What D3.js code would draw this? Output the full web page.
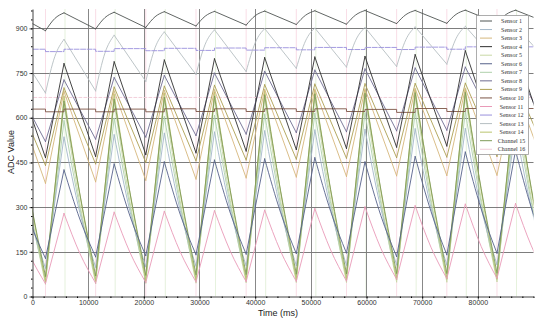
<!DOCTYPE html>
<html>
<head>
<meta charset="utf-8">
<script src="https://cdn.jsdelivr.net/npm/d3@7"></script>
<style>
  body { margin: 0; background: #fff; }
  svg { display: block; }
</style>
</head>
<body>
<div id="chart"></div>
<script>
// cycle timing (ms)
const peakTimes = [-3350, 5660, 14670, 23680, 32690, 41710, 50720, 59730, 68740, 77750, 86770];
const troughTimes = [2330, 11340, 20350, 29370, 38380, 47390, 56400, 65410, 74430, 83440, 92450];
const decayMidTimes = [-510, 8500, 17510, 26530, 35540, 44550, 53560, 62570, 71590, 80600, 89610];
const riseMidTimes = [4000, 13010, 22020, 31030, 40040, 49050, 58060, 67070, 76090, 85100];

const xTicks = [0, 10000, 20000, 30000, 40000, 50000, 60000, 70000, 80000];
const yTicks = [0, 150, 300, 450, 600, 750, 900];

const seriesNames = ["Sensor 1", "Sensor 2", "Sensor 3", "Sensor 4", "Sensor 5", "Sensor 6",
  "Sensor 7", "Sensor 8", "Sensor 9", "Sensor 10", "Sensor 11", "Sensor 12", "Sensor 13",
  "Sensor 14", "Channel 15", "Channel 16"];
const seriesColors = ["#4f5552", "#a3b7c8", "#d6b77c", "#2f2f2f", "#c8d8a6", "#56628a",
  "#aed0ab", "#6f6c92", "#ad9f52", "#7c5444", "#e99ab8", "#9a90dc", "#b6bec2",
  "#b9c46e", "#7e9a58", "#f0cad6"];

// sawtooth sensors: value at each peak / trough (and curve midpoints)
const s1Peak = [950, 952, 954, 956, 957, 958, 959, 960, 960, 961, 961];
const s1Trough = [892, 898, 903, 908, 911, 913, 914, 916, 917, 918, 919];
const s1Rise = [933, 936, 939, 941, 943, 944, 945, 946, 947, 947];

const s13Peak = [850, 863, 877, 888, 895, 899, 901, 903, 905, 907, 908];
const s13Trough = [683, 690, 722, 745, 755, 766, 770, 772, 780, 786, 790];
const s13Rise = [805, 817, 835, 847, 853, 858, 860, 862, 866, 869];

const s4Peak = [775, 782, 788, 794, 798, 802, 804, 806, 812, 825, 830];
const s4Trough = [466, 470, 476, 482, 488, 493, 497, 501, 505, 508, 510];

const s8Peak = [720, 727, 735, 742, 750, 756, 760, 764, 767, 770, 772];
const s8Trough = [520, 528, 535, 540, 545, 550, 553, 556, 558, 560, 561];

const s9Peak = [695, 700, 703, 706, 709, 711, 713, 714, 715, 716, 717];
const s9Trough = [440, 445, 450, 455, 458, 461, 464, 466, 468, 470, 471];

const s3Peak = [682, 688, 690, 692, 694, 695, 696, 697, 698, 699, 700];
const s3Trough = [380, 385, 390, 394, 398, 401, 403, 405, 406, 407, 408];

const c15Peak = [640, 655, 662, 668, 672, 676, 679, 681, 683, 684, 685];
const c15Trough = [68, 70, 72, 74, 75, 76, 77, 78, 78, 79, 79];
const c15Mid = [337, 345, 349, 353, 355, 357, 359, 360, 361, 362, 363];

const s14Peak = [660, 672, 678, 682, 686, 689, 691, 693, 694, 695, 696];
const s14Trough = [50, 52, 54, 55, 56, 57, 58, 58, 59, 59, 60];
const s14Mid = [337, 343, 347, 349, 351, 353, 354, 355, 356, 356, 357];

const s5Peak = [630, 645, 652, 657, 661, 664, 666, 668, 669, 670, 671];
const s5Trough = [42, 44, 45, 46, 47, 48, 48, 49, 49, 50, 50];
const s5Mid = [307, 314, 318, 321, 323, 325, 326, 327, 328, 328, 329];

const s7Peak = [575, 590, 598, 604, 608, 612, 615, 617, 619, 620, 621];
const s7Trough = [58, 60, 62, 63, 64, 65, 66, 66, 67, 67, 68];
const s7Mid = [291, 298, 303, 306, 308, 310, 312, 313, 314, 315, 316];

const s2Peak = [520, 535, 543, 548, 552, 556, 559, 561, 563, 564, 565];
const s2Trough = [95, 98, 100, 102, 103, 104, 105, 106, 106, 107, 107];
const s2Mid = [274, 282, 286, 289, 291, 293, 295, 296, 297, 297, 298];

const s6Peak = [415, 425, 445, 452, 458, 462, 466, 452, 470, 485, 490];
const s6Trough = [128, 133, 137, 140, 142, 144, 146, 134, 140, 145, 148];
const s6Mid = [252, 260, 270, 276, 280, 283, 286, 272, 285, 294, 298];

const s11Peak = [272, 279, 283, 286, 288, 290, 295, 301, 305, 310, 312];
const s11Trough = [43, 45, 47, 49, 50, 51, 52, 58, 60, 61, 62];
const s11Mid = [140, 145, 148, 150, 152, 153, 156, 162, 165, 168, 170];

// step sensors: level between cycles / level during the dip
const s12High = [830, 830, 832, 833, 834, 835, 836, 836, 837, 838, 838];
const s12Low = [822, 823, 825, 826, 827, 828, 829, 829, 830, 830, 831];
const s10High = [629, 629, 629, 630, 630, 630, 630, 628, 631, 631, 631];
const s10Low = [620, 620, 620, 621, 621, 621, 621, 618, 621, 622, 622];

// flat channel
const c16Level = [668, 668, 668, 668, 668, 668, 668, 668, 668, 668, 668];

const series = [
  { id: 0, kind: "saw", peak: s1Peak, trough: s1Trough, rise: s1Rise },
  { id: 1, kind: "saw", peak: s2Peak, trough: s2Trough, mid: s2Mid },
  { id: 2, kind: "saw", peak: s3Peak, trough: s3Trough },
  { id: 3, kind: "saw", peak: s4Peak, trough: s4Trough },
  { id: 4, kind: "saw", peak: s5Peak, trough: s5Trough, mid: s5Mid },
  { id: 5, kind: "saw", peak: s6Peak, trough: s6Trough, mid: s6Mid },
  { id: 6, kind: "saw", peak: s7Peak, trough: s7Trough, mid: s7Mid },
  { id: 7, kind: "saw", peak: s8Peak, trough: s8Trough },
  { id: 8, kind: "saw", peak: s9Peak, trough: s9Trough },
  { id: 9, kind: "step", high: s10High, low: s10Low },
  { id: 10, kind: "saw", peak: s11Peak, trough: s11Trough, mid: s11Mid },
  { id: 11, kind: "step", high: s12High, low: s12Low },
  { id: 12, kind: "saw", peak: s13Peak, trough: s13Trough, rise: s13Rise },
  { id: 13, kind: "saw", peak: s14Peak, trough: s14Trough, mid: s14Mid },
  { id: 14, kind: "saw", peak: c15Peak, trough: c15Trough, mid: c15Mid },
  { id: 15, kind: "flat", level: c16Level }
];
// light lines first, dark ones on top
const drawOrder = [15, 12, 4, 6, 1, 13, 2, 8, 14, 10, 5, 7, 11, 9, 3, 0];

const width = 550;
const height = 323;

const x = d3.scaleLinear().domain([0, 90000]).range([32.5, 533.5]);
const y = d3.scaleLinear().domain([0, 965]).range([296.5, 9]);

const svg = d3.select("#chart").append("svg")
  .attr("width", width)
  .attr("height", height)
  .style("font-family", "'Liberation Sans', Arial, sans-serif");

svg.append("defs").append("clipPath").attr("id", "plot-clip")
  .append("rect")
  .attr("x", x(0)).attr("y", y(965))
  .attr("width", x(90000) - x(0)).attr("height", y(0) - y(965));

// faint event markers at each peak and trough
const markers = svg.append("g").attr("clip-path", "url(#plot-clip)");
markers.selectAll(".mt").data(troughTimes).join("line")
  .attr("x1", d => x(d)).attr("x2", d => x(d))
  .attr("y1", y(965)).attr("y2", y(0))
  .attr("stroke", "#f2b8cc").attr("stroke-width", 0.8).attr("opacity", 0.6);
markers.selectAll(".mp").data(peakTimes).join("line")
  .attr("x1", d => x(d) + 1).attr("x2", d => x(d) + 1)
  .attr("y1", y(965)).attr("y2", y(0))
  .attr("stroke", "#c9e2b8").attr("stroke-width", 0.8).attr("opacity", 0.6);

// grid
const grid = svg.append("g");
grid.selectAll(".gy").data(yTicks.slice(1)).join("line")
  .attr("x1", x(0)).attr("x2", x(90000))
  .attr("y1", d => Math.round(y(d)) + 0.5).attr("y2", d => Math.round(y(d)) + 0.5)
  .attr("stroke", "#6e6e6e").attr("stroke-width", 0.9);
grid.selectAll(".gx").data(xTicks.slice(1)).join("line")
  .attr("x1", d => Math.round(x(d)) + 0.5).attr("x2", d => Math.round(x(d)) + 0.5)
  .attr("y1", y(965)).attr("y2", y(0))
  .attr("stroke", "#7a7a7a").attr("stroke-width", 0.9);

// series
const monotone = d3.line().x(d => x(d[0])).y(d => y(d[1])).curve(d3.curveMonotoneX);
const stepLine = d3.line().x(d => x(d[0])).y(d => y(d[1])).curve(d3.curveStepAfter);
const straight = d3.line().x(d => x(d[0])).y(d => y(d[1]));

function sawPath(s) {
  let d = "";
  for (let k = 0; k < peakTimes.length; k++) {
    const fall = [[peakTimes[k], s.peak[k]]];
    if (s.mid) fall.push([decayMidTimes[k], s.mid[k]]);
    fall.push([troughTimes[k], s.trough[k]]);
    d += monotone(fall);
    if (k < peakTimes.length - 1) {
      const rise = [[troughTimes[k], s.trough[k]]];
      if (s.rise) rise.push([riseMidTimes[k], s.rise[k]]);
      rise.push([peakTimes[k + 1], s.peak[k + 1]]);
      d += monotone(rise);
    }
  }
  return d;
}

function stepPath(s) {
  const pts = [];
  for (let k = 0; k < peakTimes.length; k++) {
    pts.push([peakTimes[k], s.high[k]]);
    pts.push([troughTimes[k], s.low[k]]);
  }
  return stepLine(pts);
}

const plot = svg.append("g").attr("clip-path", "url(#plot-clip)");
drawOrder.forEach(i => {
  const s = series[i];
  let d;
  if (s.kind === "saw") d = sawPath(s);
  else if (s.kind === "step") d = stepPath(s);
  else d = straight(peakTimes.map((t, k) => [t, s.level[k]]).concat([[troughTimes[10], s.level[10]]]));
  plot.append("path")
    .attr("d", d)
    .attr("fill", "none")
    .attr("stroke", seriesColors[i])
    .attr("stroke-width", 0.9)
    .attr("stroke-dasharray", s.kind === "flat" ? "3,2" : (i === 11 ? "5,1.5" : null))
    .attr("stroke-linecap", "round")
    .attr("stroke-linejoin", "round");
});

// axes
const xAxis = svg.append("g").attr("transform", `translate(0,${y(0)})`)
  .call(d3.axisBottom(x).tickValues(xTicks).tickFormat(d3.format("d"))
    .tickSize(3).tickSizeOuter(0).tickPadding(1));
svg.append("g").attr("transform", `translate(0,${y(0)})`)
  .call(d3.axisBottom(x).tickValues(d3.range(0, 90001, 2000)).tickSize(1.5).tickFormat(""))
  .select(".domain").remove();
const yAxis = svg.append("g").attr("transform", `translate(${x(0)},0)`)
  .call(d3.axisLeft(y).tickValues(yTicks).tickSize(3).tickSizeOuter(0).tickPadding(2));
svg.append("g").attr("transform", `translate(${x(0)},0)`)
  .call(d3.axisLeft(y).tickValues(d3.range(0, 961, 30)).tickSize(1.5).tickFormat(""))
  .select(".domain").remove();

[xAxis, yAxis].forEach(a => {
  a.selectAll("text").attr("font-size", 7).attr("fill", "#333").style("font-family", "'Liberation Sans', Arial, sans-serif");
  a.selectAll("line").attr("stroke", "#444");
  a.select(".domain").attr("stroke", "#444");
});

svg.append("text")
  .attr("x", 278).attr("y", 316)
  .attr("text-anchor", "middle")
  .attr("font-size", 9)
  .attr("fill", "#222")
  .text("Time (ms)");

svg.append("text")
  .attr("transform", "translate(14,152) rotate(-90)")
  .attr("text-anchor", "middle")
  .attr("font-size", 9)
  .attr("fill", "#222")
  .text("ADC Value");

// legend
const legend = svg.append("g");
legend.append("rect")
  .attr("x", 476.5).attr("y", 15.5)
  .attr("width", 52).attr("height", 139)
  .attr("fill", "#fff").attr("stroke", "#9a9a9a").attr("stroke-width", 0.8);
const rows = legend.selectAll(".row").data(seriesNames).join("g")
  .attr("transform", (d, i) => `translate(0,${21 + i * 8.55})`);
rows.append("line")
  .attr("x1", 480).attr("x2", 492)
  .attr("stroke", (d, i) => seriesColors[i]).attr("stroke-width", 1);
rows.append("text")
  .attr("x", 511.5).attr("y", 2)
  .attr("text-anchor", "middle")
  .attr("font-size", 6)
  .attr("fill", "#333")
  .style("font-family", "'Liberation Serif', 'Times New Roman', serif")
  .text(d => d);
</script>
</body>
</html>
